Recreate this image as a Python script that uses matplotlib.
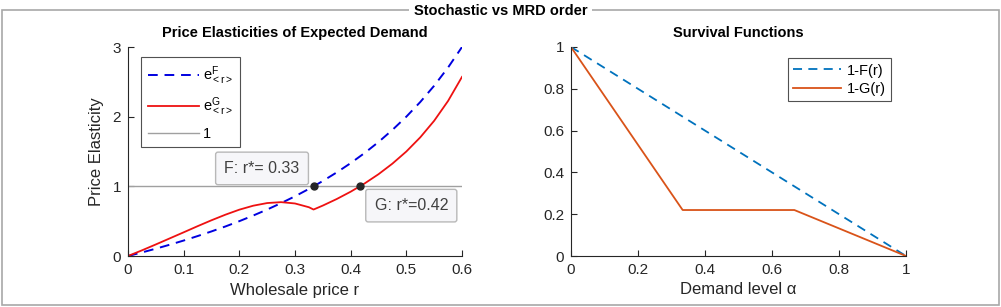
import matplotlib
matplotlib.use("Agg")
import matplotlib.pyplot as plt
from matplotlib.patches import Rectangle

plt.rcParams['font.family'] = ['Liberation Sans', 'DejaVu Sans']
plt.rcParams['mathtext.fontset'] = 'custom'
plt.rcParams['mathtext.rm'] = 'Liberation Sans'
plt.rcParams['mathtext.it'] = 'Liberation Sans'

# ---- data: left panel (price elasticities) ----
r_vals = [0, 0.025, 0.05, 0.075, 0.1, 0.125, 0.15, 0.175, 0.2, 0.225, 0.25,
          0.275, 0.3, 0.325, 0.3333, 0.35, 0.375, 0.4, 0.425, 0.45, 0.475,
          0.5, 0.525, 0.55, 0.575, 0.6]
eF_vals = [0, 0.051, 0.105, 0.162, 0.222, 0.286, 0.353, 0.424, 0.5, 0.581,
           0.667, 0.759, 0.857, 0.963, 1.0, 1.077, 1.2, 1.333, 1.478, 1.636,
           1.81, 2.0, 2.21, 2.444, 2.706, 3.0]
eG_vals = [0, 0.081, 0.166, 0.253, 0.34, 0.428, 0.513, 0.593, 0.665, 0.722,
           0.76, 0.773, 0.754, 0.70, 0.667, 0.724, 0.818, 0.923, 1.041, 1.174,
           1.326, 1.5, 1.703, 1.941, 2.226, 2.571]
ref_x = [0, 0.6]
ref_y = [1, 1]
rstar_F = 0.33
rstar_G = 0.42
rstar_F_pt = (0.3333, 1.0)
rstar_G_pt = (0.4167, 1.0)

# ---- data: right panel (survival functions) ----
alpha_F = [0, 1]
surv_F = [1, 0]
alpha_G = [0, 0.3333, 0.6667, 1]
surv_G = [1, 0.22, 0.22, 0]

W, H = 1001, 307
fig = plt.figure(figsize=(W / 100, H / 100), dpi=100)

tick_color = '#262626'

def style_axes(ax):
    for s in ['top', 'right']:
        ax.spines[s].set_visible(False)
    for s in ['left', 'bottom']:
        ax.spines[s].set_color(tick_color)
        ax.spines[s].set_linewidth(0.8)
    ax.tick_params(direction='in', length=4, width=0.8, colors=tick_color,
                   labelsize=11, pad=5)

def px_axes(x0, x1, y_top, y_bot):
    return [x0 / W, 1 - y_bot / H, (x1 - x0) / W, (y_bot - y_top) / H]

# ---------------- left axes ----------------
ax1 = fig.add_axes(px_axes(128, 462, 47, 256))
style_axes(ax1)
ax1.plot(r_vals, eF_vals, color='#0000e0', lw=1.4, ls=(0, (5, 3.5)),
         label=r'$e^{F}_{<r>}$')
ax1.plot(r_vals, eG_vals, color='#ee1111', lw=1.3, label=r'$e^{G}_{<r>}$')
ax1.plot(ref_x, ref_y, color='#a0a0a0', lw=1.0, label='1')
ax1.plot([rstar_F_pt[0], rstar_G_pt[0]], [rstar_F_pt[1], rstar_G_pt[1]], 'o',
         color='#262626', ms=5, zorder=7)
ax1.set_xlim(0, 0.6)
ax1.set_ylim(0, 3)
ax1.set_xticks([0, 0.1, 0.2, 0.3, 0.4, 0.5, 0.6])
ax1.set_xticklabels(['0', '0.1', '0.2', '0.3', '0.4', '0.5', '0.6'])
ax1.set_yticks([0, 1, 2, 3])
ax1.set_xlabel('Wholesale price r', fontsize=12, color=tick_color, labelpad=4)
ax1.set_ylabel('Price Elasticity', fontsize=12, color=tick_color, labelpad=6)
ax1.set_title('Price Elasticities of Expected Demand', fontsize=10.5,
              fontweight='bold', color='black', pad=7)
leg1 = ax1.legend(loc='upper left', bbox_to_anchor=(0.04, 0.95), fontsize=10.5,
                  frameon=True, fancybox=False, handlelength=3.5,
                  borderpad=0.45, labelspacing=0.6, handletextpad=0.3,
                  borderaxespad=0)
leg1.get_frame().set_edgecolor('#262626')
leg1.get_frame().set_linewidth(0.8)

box_kw = dict(boxstyle='round,pad=0.55,rounding_size=0.15', fc='#f6f6f9',
              ec='#b8b8b8', lw=1)
ax1.annotate(f'F: r*= {rstar_F:.2f}', xy=rstar_F_pt, xytext=(-10, 7.5),
             textcoords='offset points', ha='right', va='bottom',
             fontsize=11.5, color='#404040', bbox=box_kw, zorder=6)
ax1.annotate(f'G: r*={rstar_G:.2f}', xy=rstar_G_pt, xytext=(10.5, -8.5),
             textcoords='offset points', ha='left', va='top',
             fontsize=11.5, color='#404040', bbox=box_kw, zorder=6)

# ---------------- right axes ----------------
ax2 = fig.add_axes(px_axes(571, 906, 47, 256))
style_axes(ax2)
ax2.plot(alpha_F, surv_F, color='#0072BD', lw=1.3, ls=(0, (5, 3.5)),
         label='1-F(r)')
ax2.plot(alpha_G, surv_G, color='#D95319', lw=1.3, label='1-G(r)')
ax2.set_xlim(0, 1)
ax2.set_ylim(0, 1)
ax2.set_xticks([0, 0.2, 0.4, 0.6, 0.8, 1])
ax2.set_xticklabels(['0', '0.2', '0.4', '0.6', '0.8', '1'])
ax2.set_yticks([0, 0.2, 0.4, 0.6, 0.8, 1])
ax2.set_yticklabels(['0', '0.2', '0.4', '0.6', '0.8', '1'])
ax2.set_xlabel('Demand level α', fontsize=12, color=tick_color, labelpad=4)
ax2.set_title('Survival Functions', fontsize=10.5, fontweight='bold',
              color='black', pad=7)
leg2 = ax2.legend(loc='upper right', bbox_to_anchor=(0.955, 0.945), fontsize=10.5,
                  frameon=True, fancybox=False, handlelength=3.3,
                  borderpad=0.35, labelspacing=0.3, handletextpad=0.4,
                  borderaxespad=0)
leg2.get_frame().set_edgecolor('#262626')
leg2.get_frame().set_linewidth(0.8)

# ---------------- panel border + title ----------------
fig.patches.append(Rectangle((1.5 / W, 1 - 305 / H), 997 / W, 295 / H,
                             transform=fig.transFigure, fill=False,
                             ec='#a8a8a8', lw=1.2))
fig.text(0.5, 1 - 11 / H, 'Stochastic vs MRD order', ha='center', va='center',
         fontsize=10.5, fontweight='bold', color='black',
         bbox=dict(fc='white', ec='none', pad=3))

fig.savefig('out.png', dpi=100)
